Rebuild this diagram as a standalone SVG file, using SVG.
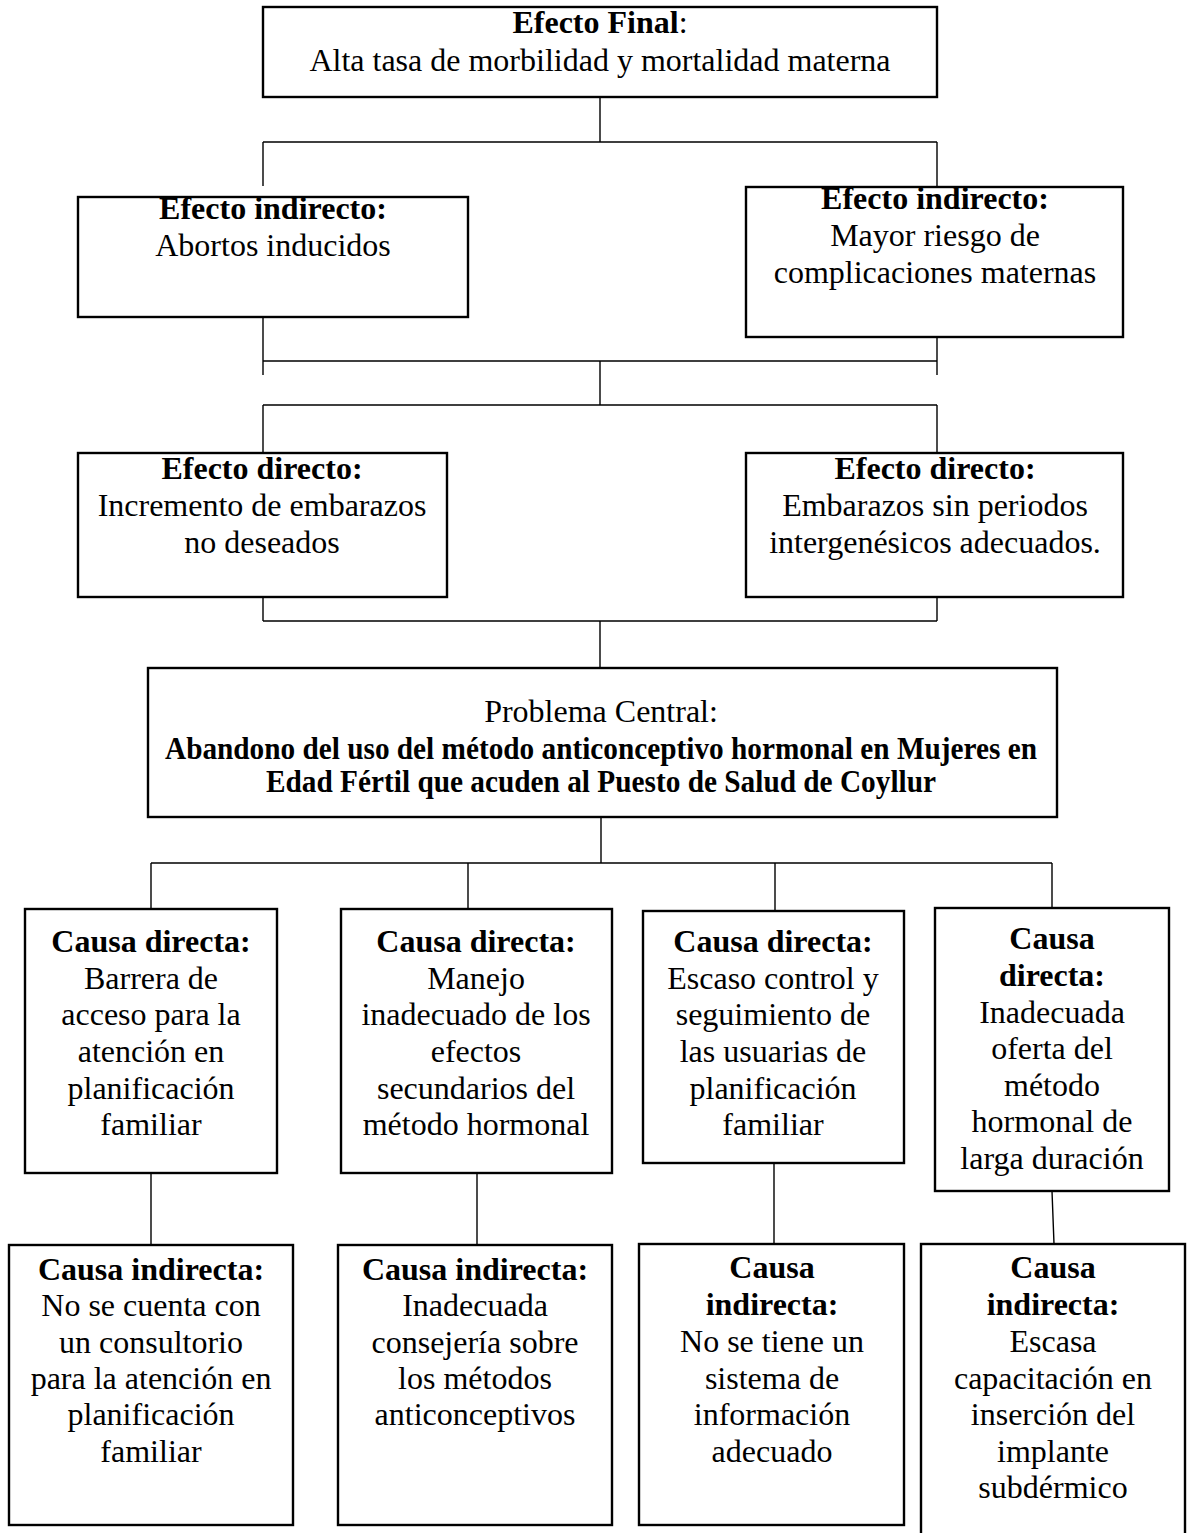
<svg xmlns="http://www.w3.org/2000/svg" width="1187" height="1533" viewBox="0 0 1187 1533">
<style>
  .box { fill: #ffffff; stroke: #000000; stroke-width: 2.4; }
  .con { stroke: #000000; stroke-width: 1.4; fill: none; }
  text { font-family: "Liberation Serif", "Times New Roman", serif; font-size: 32px; fill: #000000; text-anchor: middle; }
  .b { font-weight: bold; }
</style>
<rect x="0" y="0" width="1187" height="1533" fill="#ffffff"/>
<g id="connectors">
  <path class="con" d="M600 97 V142 M263 142 H937 M263 142 V186 M937 142 V187"/>
  <path class="con" d="M263 317 V375 M937 337 V375 M263 361 H937 M600 361 V405"/>
  <path class="con" d="M263 405 H937 M263 405 V453 M937 405 V453"/>
  <path class="con" d="M263 597 V621 M937 597 V621 M263 621 H937 M600 621 V668"/>
  <path class="con" d="M601 817 V863 M151 863 H1052 M151 863 V909 M468 863 V909 M775 863 V911 M1052 863 V908"/>
  <path class="con" d="M151 1173 V1245 M477 1173 V1245 M774 1163 V1244 M1052 1191 L1054 1244"/>
</g>
<g id="efecto-final">
  <rect class="box" x="263" y="7" width="674" height="90"/>
  <text x="600" y="33"><tspan class="b">Efecto Final</tspan>:</text>
  <text x="600" y="71">Alta tasa de morbilidad y mortalidad materna</text>
</g>
<g id="efecto-indirecto-1">
  <rect class="box" x="78" y="197" width="390" height="120"/>
  <text x="273" y="219" class="b">Efecto indirecto:</text>
  <text x="273" y="256">Abortos inducidos</text>
</g>
<g id="efecto-indirecto-2">
  <rect class="box" x="746" y="187" width="377" height="150"/>
  <text x="935" y="209" class="b">Efecto indirecto:</text>
  <text x="935" y="246">Mayor riesgo de</text>
  <text x="935" y="283">complicaciones maternas</text>
</g>
<g id="efecto-directo-1">
  <rect class="box" x="78" y="453" width="369" height="144"/>
  <text x="262" y="479" class="b">Efecto directo:</text>
  <text x="262" y="516">Incremento de embarazos</text>
  <text x="262" y="553">no deseados</text>
</g>
<g id="efecto-directo-2">
  <rect class="box" x="746" y="453" width="377" height="144"/>
  <text x="935" y="479" class="b">Efecto directo:</text>
  <text x="935" y="516">Embarazos sin periodos</text>
  <text x="935" y="553">intergenésicos adecuados.</text>
</g>
<g id="problema-central">
  <rect class="box" x="148" y="668" width="909" height="149"/>
  <text x="601" y="722">Problema Central:</text>
  <text x="601" y="759" class="b" textLength="872" lengthAdjust="spacingAndGlyphs">Abandono del uso del método anticonceptivo hormonal en Mujeres en</text>
  <text x="601" y="792" class="b" textLength="670" lengthAdjust="spacingAndGlyphs">Edad Fértil que acuden al Puesto de Salud de Coyllur</text>
</g>
<g id="causa-directa-1">
  <rect class="box" x="25" y="909" width="252" height="264"/>
  <text x="151" y="952" class="b">Causa directa:</text>
  <text x="151" y="989">Barrera de</text>
  <text x="151" y="1025">acceso para la</text>
  <text x="151" y="1062">atención en</text>
  <text x="151" y="1099">planificación</text>
  <text x="151" y="1135">familiar</text>
</g>
<g id="causa-directa-2">
  <rect class="box" x="341" y="909" width="271" height="264"/>
  <text x="476" y="952" class="b">Causa directa:</text>
  <text x="476" y="989">Manejo</text>
  <text x="476" y="1025">inadecuado de los</text>
  <text x="476" y="1062">efectos</text>
  <text x="476" y="1099">secundarios del</text>
  <text x="476" y="1135">método hormonal</text>
</g>
<g id="causa-directa-3">
  <rect class="box" x="643" y="911" width="261" height="252"/>
  <text x="773" y="952" class="b">Causa directa:</text>
  <text x="773" y="989">Escaso control y</text>
  <text x="773" y="1025">seguimiento de</text>
  <text x="773" y="1062">las usuarias de</text>
  <text x="773" y="1099">planificación</text>
  <text x="773" y="1135">familiar</text>
</g>
<g id="causa-directa-4">
  <rect class="box" x="935" y="908" width="234" height="283"/>
  <text x="1052" y="949" class="b">Causa</text>
  <text x="1052" y="986" class="b">directa:</text>
  <text x="1052" y="1023">Inadecuada</text>
  <text x="1052" y="1059">oferta del</text>
  <text x="1052" y="1096">método</text>
  <text x="1052" y="1132">hormonal de</text>
  <text x="1052" y="1169">larga duración</text>
</g>
<g id="causa-indirecta-1">
  <rect class="box" x="9" y="1245" width="284" height="280"/>
  <text x="151" y="1280" class="b">Causa indirecta:</text>
  <text x="151" y="1316">No se cuenta con</text>
  <text x="151" y="1353">un consultorio</text>
  <text x="151" y="1389">para la atención en</text>
  <text x="151" y="1425">planificación</text>
  <text x="151" y="1462">familiar</text>
</g>
<g id="causa-indirecta-2">
  <rect class="box" x="338" y="1245" width="274" height="280"/>
  <text x="475" y="1280" class="b">Causa indirecta:</text>
  <text x="475" y="1316">Inadecuada</text>
  <text x="475" y="1353">consejería sobre</text>
  <text x="475" y="1389">los métodos</text>
  <text x="475" y="1425">anticonceptivos</text>
</g>
<g id="causa-indirecta-3">
  <rect class="box" x="639" y="1244" width="265" height="281"/>
  <text x="772" y="1278" class="b">Causa</text>
  <text x="772" y="1315" class="b">indirecta:</text>
  <text x="772" y="1352">No se tiene un</text>
  <text x="772" y="1389">sistema de</text>
  <text x="772" y="1425">información</text>
  <text x="772" y="1462">adecuado</text>
</g>
<g id="causa-indirecta-4">
  <rect class="box" x="921" y="1244" width="264" height="300"/>
  <text x="1053" y="1278" class="b">Causa</text>
  <text x="1053" y="1315" class="b">indirecta:</text>
  <text x="1053" y="1352">Escasa</text>
  <text x="1053" y="1389">capacitación en</text>
  <text x="1053" y="1425">inserción del</text>
  <text x="1053" y="1462">implante</text>
  <text x="1053" y="1498">subdérmico</text>
</g>
</svg>
